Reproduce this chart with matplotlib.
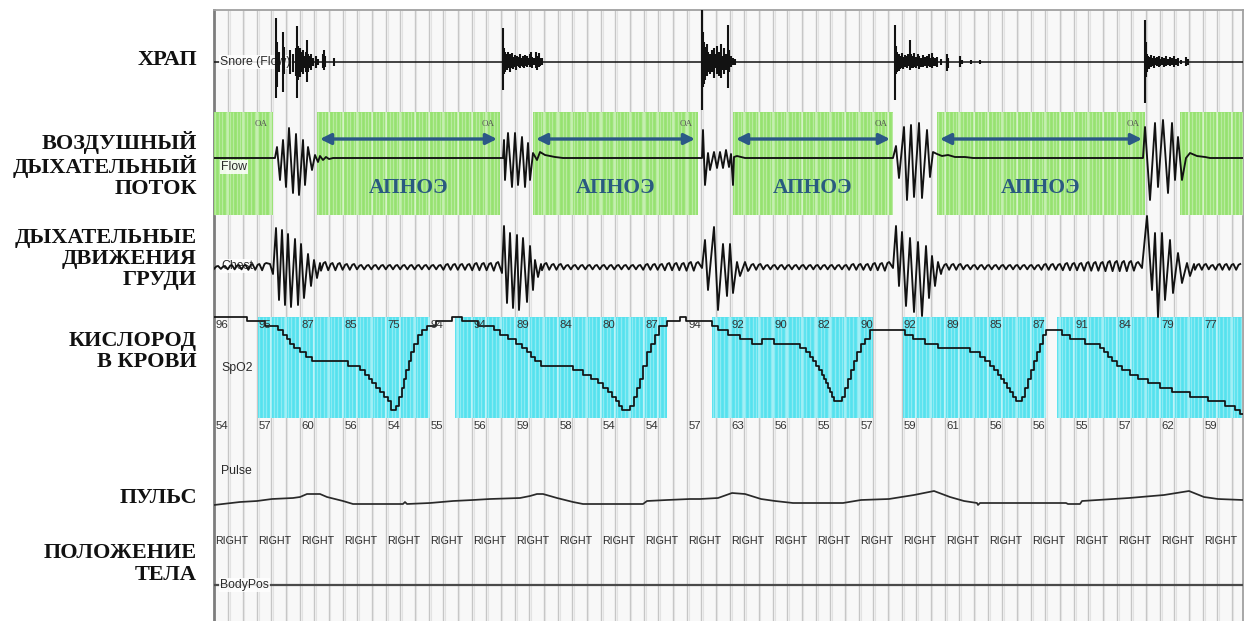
import numpy as np
import matplotlib
matplotlib.use("Agg")
import matplotlib.pyplot as plt
from matplotlib.transforms import blended_transform_factory as blend

# ------------------------------------------------------------------
# Recording window: signals indexed in samples (4.3 Hz, 43 per 10-s epoch)
# ------------------------------------------------------------------
SAMPLES_PER_EPOCH = 43
WINDOW_SAMPLES = 1029
N_EPOCHS = 24

row_titles = ["ХРАП",
              "ВОЗДУШНЫЙ\nДЫХАТЕЛЬНЫЙ\nПОТОК",
              "ДЫХАТЕЛЬНЫЕ\nДВИЖЕНИЯ\nГРУДИ",
              "КИСЛОРОД\nВ КРОВИ",
              "ПУЛЬС",
              "ПОЛОЖЕНИЕ\nТЕЛА"]
channel_ids = ["Snore (Flow)", "Flow", "Chest", "SpO2", "Pulse", "BodyPos"]

# Snore: individual spikes (sample, positive excursion, negative excursion)
snore_t = [62, 63, 65, 69, 70, 76, 79, 82, 83, 84, 85, 86, 87, 88, 89, 90, 92, 93, 94, 96, 97, 99, 102, 104, 109, 110, 111, 120,
           289, 290, 291, 292, 293, 294, 295, 296, 297, 298, 299, 300, 301, 302, 303, 305, 306, 307, 309, 310, 311, 313, 314, 316, 317, 318, 320, 322, 323, 325, 326, 328,
           488, 489, 490, 491, 492, 493, 494, 496, 498, 500, 501, 503, 505, 507, 508, 510, 512, 514, 515, 517, 519, 521,
           681, 682, 683, 685, 686, 688, 689, 691, 693, 694, 696, 697, 699, 700, 702, 704, 705, 707, 709, 711, 713, 715, 716, 718, 719, 721, 723, 727, 733, 734, 746, 748, 757, 766,
           931, 932, 933, 934, 935, 937, 938, 940, 941, 943, 945, 946, 948, 950, 952, 954, 956, 958, 960, 962, 964, 967, 972, 974]
snore_hi = [44, 20, 10, 30, 15, 12, 8, 14, 36, 16, 12, 14, 10, 8, 12, 6, 10, 22, 8, 6, 8, 4, 6, 3, 8, 12, 6, 4,
            34, 14, 10, 8, 6, 10, 5, 8, 6, 9, 5, 4, 7, 5, 6, 5, 8, 4, 6, 4, 7, 6, 4, 8, 10, 5, 4, 10, 6, 9, 4, 4,
            52, 30, 20, 15, 12, 18, 10, 8, 12, 14, 8, 16, 10, 18, 6, 14, 8, 37, 12, 6, 4, 3,
            37, 16, 10, 8, 6, 9, 5, 7, 6, 8, 22, 8, 6, 9, 5, 8, 6, 4, 7, 5, 6, 8, 4, 9, 5, 4, 5, 3, 8, 4, 6, 2, 2, 2,
            42, 20, 8, 6, 5, 7, 4, 6, 4, 5, 6, 3, 5, 4, 6, 3, 5, 4, 6, 3, 4, 2, 5, 3]
snore_lo = [-36, -25, -10, -30, -12, -12, -10, -14, -36, -18, -14, -15, -8, -10, -12, -6, -10, -20, -10, -6, -8, -4, -6, -3, -6, -8, -5, -4,
            -28, -12, -10, -6, -8, -6, -5, -10, -4, -6, -7, -4, -5, -8, -4, -5, -6, -4, -5, -6, -4, -5, -3, -5, -4, -6, -3, -6, -8, -5, -4, -3,
            -48, -25, -22, -18, -10, -14, -10, -12, -10, -16, -6, -12, -14, -16, -8, -12, -8, -26, -10, -5, -3, -3,
            -38, -12, -10, -9, -7, -6, -7, -5, -6, -4, -8, -6, -6, -5, -6, -4, -7, -5, -5, -4, -6, -4, -5, -6, -4, -4, -5, -3, -9, -6, -5, -2, -2, -2,
            -41, -15, -10, -5, -7, -5, -4, -6, -3, -4, -5, -4, -3, -5, -4, -3, -4, -3, -5, -3, -4, -2, -4, -3]

# Nasal airflow (sample, amplitude)
flow_t = [0,
          61, 63, 66, 69, 72, 75, 79, 82, 85, 89, 91, 94, 98, 101, 104, 106, 109, 112, 115, 119,
          289, 290, 291, 294, 298, 301, 304, 308, 311, 314, 316, 319, 323, 326, 331, 341, 349,
          488, 489, 491, 494, 496, 500, 503, 506, 509, 512, 515, 517, 519, 520, 523, 531,
          679, 682, 685, 690, 693, 697, 700, 705, 708, 713, 716, 719, 723, 728, 734, 741, 751, 759,
          929, 931, 936, 941, 944, 949, 954, 958, 961, 964, 968, 972, 976, 983, 991, 996,
          1029]
flow_v = [0,
          0, 11, -22, 18, -29, 30, -35, 24, -37, 18, -27, 11, -12, 3, -4, 2, -2, 1, -1, 0,
          0, 18, -22, 25, -29, 25, -27, 21, -29, 15, -22, 5, -2, 6, 3, 1, 0,
          0, 28, -27, 5, -12, 6, -10, 6, -10, 8, -9, 4, -27, 1, 2, 0,
          0, 12, -20, 31, -42, 33, -39, 35, -40, 28, -19, 6, 4, 2, 3, 1, 1, 0,
          0, 31, -42, 35, -29, 38, -35, 35, -22, 21, -22, 0, 5, 2, 1, 0,
          0]

# Chest effort: recovery bursts (sample, amplitude)
chest_burst_t = [56, 59, 62, 65, 68, 71, 74, 77, 81, 84, 87, 90, 94, 97, 100, 103, 106,
                 288, 290, 293, 296, 299, 303, 305, 309, 313, 316, 319, 321, 324, 327,
                 488, 491, 494, 500, 504, 509, 513, 516, 519, 523, 526, 531, 534,
                 679, 682, 685, 688, 692, 696, 700, 704, 708, 712, 715, 718, 721, 724, 727,
                 928, 933, 938, 941, 944, 948, 951, 956, 959, 964, 968, 973, 976, 980]
chest_burst_v = [4, -6, 40, -32, 38, -37, 34, -39, 29, -37, 24, -30, 14, -18, 8, -10, 5,
                 -5, 42, -35, 35, -40, 33, -42, 30, -34, 22, -22, 8, -9, 4,
                 0, 28, -22, 41, -42, 24, -28, 24, -25, 6, -8, 6, -3,
                 0, 42, -18, 36, -38, 30, -44, 26, -48, 22, -30, 12, -18, 6, -6,
                 0, 52, -22, 35, -49, 35, -32, 28, -25, 15, -15, 5, -8, 4]
# Chest effort during obstructed breathing: one amplitude per breath
chest_ripple_segments = [(0, 55), (107, 287), (328, 487), (535, 678), (728, 927), (981, 1029)]
chest_ripple_amp = [
    [2, 2, 3, 3, 3, 4, 4, 5],
    [6, 5, 5, 4, 4, 3, 3, 3, 3, 3, 3, 3, 3, 3, 3, 3, 3, 4, 4, 4, 4, 5, 5, 5, 6],
    [5, 4, 4, 3, 3, 3, 3, 3, 3, 3, 3, 3, 3, 3, 4, 4, 4, 5, 5, 5, 6, 6],
    [4, 4, 3, 3, 3, 3, 3, 3, 3, 3, 3, 3, 3, 3, 4, 4, 4, 5, 5, 6],
    [4, 4, 4, 3, 3, 3, 3, 3, 3, 3, 3, 3, 3, 3, 4, 4, 4, 5, 5, 5, 6, 6, 6, 7, 7, 7, 7, 6],
    [4, 4, 3, 4, 4, 4, 4],
]

# Oxygen saturation, % (step changes: sample, value)
spo2_t = [0, 33, 51, 64, 69, 73, 76, 80, 86, 92, 98, 134, 146, 151, 155, 158, 162, 166, 170, 174, 177,
          182, 185, 188, 190, 192, 195, 197, 200, 204, 208, 213, 222, 238,
          248, 264, 280, 286, 294, 302, 308, 313, 317, 321, 327, 359, 369, 377, 384, 389, 394, 398, 402, 405, 408,
          416, 420, 423, 426, 429, 433, 437, 441, 445, 453, 466, 472,
          498, 504, 514, 526, 538, 548, 560, 586, 592, 596, 599, 602, 605, 608, 610, 612, 614, 616, 618, 620,
          628, 631, 634, 637, 640, 643, 647, 651, 656,
          691, 699, 711, 724, 756, 766, 771, 776, 780, 784, 787, 790, 793, 796, 799, 802,
          808, 811, 814, 817, 820, 823, 826, 829, 832,
          848, 856, 871, 886, 890, 894, 898, 903, 908, 916, 924, 934, 946, 958, 976, 994, 1011, 1021, 1026, 1029]
spo2_v = [96, 95, 94, 93, 92, 91, 90, 89, 88, 87, 86, 85, 84, 83, 82, 81, 80, 79, 78, 77, 75,
          76, 78, 80, 82, 84, 86, 88, 90, 92, 93, 94, 95, 96,
          95, 94, 93, 92, 91, 90, 89, 88, 87, 86, 85, 84, 83, 82, 81, 80, 79, 78, 77, 76, 75,
          76, 78, 80, 82, 85, 88, 90, 92, 94, 95, 96, 95,
          94, 93, 92, 91, 90, 91, 90, 89, 88, 87, 86, 85, 84, 83, 82, 81, 80, 79, 78, 77,
          78, 80, 82, 84, 86, 88, 90, 91, 93,
          92, 91, 90, 89, 88, 87, 86, 85, 84, 83, 82, 81, 80, 79, 78, 77,
          78, 80, 82, 84, 86, 88, 90, 92, 93,
          92, 91, 90, 89, 88, 87, 86, 85, 84, 83, 82, 81, 80, 79, 78, 77, 76, 75, 74, 74]

# Heart rate, bpm
pulse_t = [0, 26, 43, 58, 79, 86, 93, 106, 113, 129, 139, 189, 191, 193, 216, 239, 259, 276, 306, 316, 323, 329,
           343, 359, 369, 429, 433, 453, 476, 486, 504, 518, 531, 547, 561, 579, 629, 647, 675, 700, 720,
           736, 750, 763, 764, 766, 852, 854, 866, 868, 915, 950, 975, 990, 1004, 1029]
pulse_v = [55, 56.5, 57, 58, 58.5, 59, 60.5, 60.5, 59, 57, 55.5, 55.5, 56.5, 55.5, 56, 57, 57.5, 58, 58.5, 59.5, 60.5, 60.5,
           58.5, 56.5, 55.5, 55.5, 57, 57.5, 58, 58, 58.5, 61, 60.5, 58, 57, 56, 56, 57.5, 58, 60, 62,
           59, 57, 56, 55, 56, 56, 55.5, 55.5, 57, 58.5, 60, 62, 59, 58, 57.5]

# Body position (code 0 = right side) and per-epoch readouts
body_pos_t = [0, 1029]
body_pos_code = [0, 0]
body_pos_epochs = ["RIGHT"] * N_EPOCHS
epoch_top_values = [96, 95, 87, 85, 75, 94, 94, 89, 84, 80, 87, 94, 92, 90, 82, 90, 92, 89, 85, 87, 91, 84, 79, 77]
epoch_bottom_values = [54, 57, 60, 56, 54, 55, 56, 59, 58, 54, 54, 57, 63, 56, 55, 57, 59, 61, 56, 56, 55, 57, 62, 59]

# Scored events
flow_event_spans = [(0, 59), (103, 286), (319, 484), (519, 679), (723, 931), (966, 1029)]
flow_event_code = "OA"
apnea_label = "АПНОЭ"
desat_spans = [(44, 216), (241, 453), (498, 659), (689, 832), (843, 1028)]

# ------------------------------------------------------------------
W, H, DPI = 1252, 621, 100
PX_L, PX_R, PX_T, PX_B = 214, 1243, 10, 621
GREEN = "#96e270"
CYAN = "#55e2ee"
NAVY = "#2b5886"
TRACE = "#121212"
SANS = ["Liberation Sans", "DejaVu Sans"]
SERIF = ["Liberation Serif", "DejaVu Serif"]

fig = plt.figure(figsize=(W / DPI, H / DPI), dpi=DPI, facecolor="white")


def axes_px(top, bottom, z):
    ax = fig.add_axes([PX_L / W, 1 - bottom / H, (PX_R - PX_L) / W, (bottom - top) / H], zorder=z)
    ax.set_xlim(0, WINDOW_SAMPLES)
    ax.set_axis_off()
    return ax


def striped_band(ax, s, e, y0, y1, color):
    ax.axvspan(s, e, ymin=y0, ymax=y1, color=color, lw=0, zorder=1)
    tr = blend(ax.transData, ax.transAxes)
    xs = np.arange(s + 1.2, e, SAMPLES_PER_EPOCH / 12)
    ax.vlines(xs, y0, y1, transform=tr, color="white", lw=1.0, alpha=0.33, zorder=1.5)
    xg = [x for x in np.arange(0, WINDOW_SAMPLES, SAMPLES_PER_EPOCH / 3) if s < x < e]
    ax.vlines(xg, y0, y1, transform=tr, color="white", lw=1.2, alpha=0.5, zorder=1.6)


def channel_label(ax, x, y, text, box=True):
    kw = dict(boxstyle="square,pad=0.12", fc="white", ec="none", alpha=0.85) if box else None
    ax.text(x, y, text, ha="left", va="center", fontsize=8.8, family=SANS, color="#2a2a2a",
            bbox=kw, zorder=3)


# Background panel with time grid
bg = fig.add_axes([PX_L / W, 0, (PX_R - PX_L) / W, 1 - PX_T / H], zorder=0)
bg.set_xlim(0, WINDOW_SAMPLES)
bg.set_ylim(0, 1)
bg.set_facecolor("#f8f8f8")
bg.set_xticks([])
bg.set_yticks([])
for side, col, lw in [("left", "#7d7d7d", 2.0), ("top", "#a0a0a0", 1.3),
                      ("right", "#a0a0a0", 1.3), ("bottom", "white", 0)]:
    bg.spines[side].set_color(col)
    bg.spines[side].set_linewidth(lw)
grid_x = np.arange(SAMPLES_PER_EPOCH / 3, WINDOW_SAMPLES, SAMPLES_PER_EPOCH / 3)
bg.vlines(grid_x, 0, 1, color="#c6c6c6", lw=1.0)
bg.vlines(grid_x + 1.6, 0, 1, color="#e3e3e3", lw=0.8)

# Snore
ax_s = axes_px(10, 115, 3)
ax_s.set_ylim(-53, 52)
ax_s.plot([0, WINDOW_SAMPLES], [0, 0], color=TRACE, lw=1.1, zorder=2)
channel_label(ax_s, 6, 0, channel_ids[0])
ax_s.vlines(snore_t, snore_lo, snore_hi, color=TRACE, lw=1.5, zorder=4)

# Airflow with scored events
ax_f = axes_px(105, 218, 2)
ax_f.set_ylim(-60, 53)
fy0, fy1 = (218 - 215) / 113, (218 - 112) / 113
for s, e in flow_event_spans:
    striped_band(ax_f, s, e, fy0, fy1, GREEN)
channel_label(ax_f, 7, -9, channel_ids[1])
ax_f.plot(flow_t, flow_v, color=TRACE, lw=1.35, zorder=4)
for s, e in flow_event_spans:
    if e < WINDOW_SAMPLES - 5:
        ax_f.text(e - 5, 34, flow_event_code, ha="right", va="center", fontsize=6.5,
                  family=SERIF, color="#555555", zorder=3)
    if s > 5 and e < WINDOW_SAMPLES - 5:
        ax_f.annotate("", xy=(e - 3, 19), xytext=(s + 3, 19),
                      arrowprops=dict(arrowstyle="<|-|>", color=NAVY, lw=2.4,
                                      mutation_scale=16, shrinkA=0, shrinkB=0), zorder=3)
        ax_f.text((s + e) / 2, -30, apnea_label, ha="center", va="center", fontsize=15.5,
                  family=SERIF, weight="bold", color="#2a5a80", zorder=3)

# Chest effort
chest_pts = list(zip(chest_burst_t, chest_burst_v))
for (s, e), amps in zip(chest_ripple_segments, chest_ripple_amp):
    per = (e - s) / len(amps)
    for i, a in enumerate(amps):
        x0 = s + i * per
        chest_pts += [(x0, -0.45 * a), (x0 + 0.35 * per, 0.8 * a), (x0 + 0.6 * per, a)]
chest_pts.sort()
ax_c = axes_px(210, 325, 3)
ax_c.set_ylim(-57, 58)
channel_label(ax_c, 7, 2, channel_ids[2])
ax_c.plot([p[0] for p in chest_pts], [p[1] for p in chest_pts], color=TRACE, lw=1.35, zorder=4)

# SpO2
ax_o = axes_px(312, 432, 2)
ax_o.set_ylim(96 - 115 / 4.43, 96 + 5 / 4.43)
oy0, oy1 = (432 - 418) / 120, (432 - 317) / 120
for s, e in desat_spans:
    striped_band(ax_o, s, e, oy0, oy1, CYAN)
ax_o.step(spo2_t, spo2_v, where="post", color=TRACE, lw=1.25, zorder=4)
tr_o = blend(ax_o.transData, ax_o.transAxes)
for k in range(N_EPOCHS):
    xc = k * SAMPLES_PER_EPOCH + 8
    ax_o.text(xc, 0.892, str(epoch_top_values[k]), transform=tr_o, ha="center", va="center",
              fontsize=8.2, family=SANS, color="#333333", zorder=5)
    ax_o.text(xc, 0.05, str(epoch_bottom_values[k]), transform=tr_o, ha="center", va="center",
              fontsize=8.2, family=SANS, color="#333333", zorder=5)
ax_o.text(7, 0.533, channel_ids[3], transform=tr_o, ha="left", va="center", fontsize=8.8,
          family=SANS, color="#2a2a2a", zorder=5)

# Pulse
ax_p = axes_px(440, 530, 2)
ax_p.set_ylim(42.5, 87.5)
ax_p.plot(pulse_t, pulse_v, color="#2a2a2a", lw=1.25, zorder=4)
tr_p = blend(ax_p.transData, ax_p.transAxes)
ax_p.text(7, 0.656, channel_ids[4], transform=tr_p, ha="left", va="center", fontsize=8.8,
          family=SANS, color="#2a2a2a")

# Body position
ax_b = axes_px(530, 621, 2)
ax_b.set_ylim(-36, 55)
ax_b.plot(body_pos_t, body_pos_code, color="#4a4a4a", lw=1.6, zorder=2)
channel_label(ax_b, 6, 0, channel_ids[5])
for k, lab in enumerate(body_pos_epochs):
    ax_b.text(k * SAMPLES_PER_EPOCH + 1, 44, lab, ha="left", va="center", fontsize=7.7,
              family=SANS, color="#2a2a2a")

# Row titles on the left
title_y = [60, 165, 259, 351.5, 498, 564]
for text, y in zip(row_titles, title_y):
    fig.text(197 / W, 1 - y / H, text, ha="right", va="center", multialignment="right",
             fontsize=16, family=SERIF, weight="bold", color="#111111", linespacing=1.08)

fig.savefig("out.png", dpi=DPI, facecolor="white")
